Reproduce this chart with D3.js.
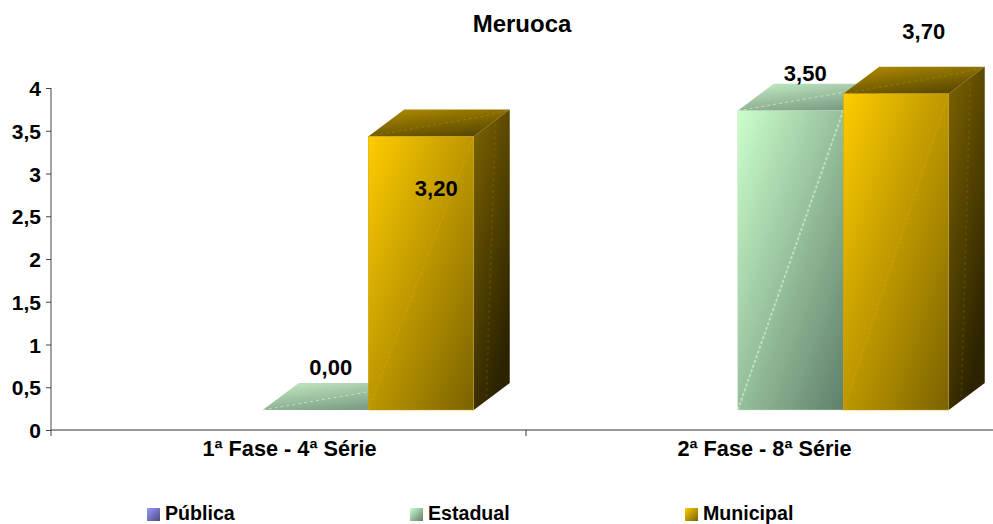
<!DOCTYPE html>
<html><head><meta charset="utf-8">
<script src="https://cdn.jsdelivr.net/npm/d3@7/dist/d3.min.js"></script>
<style>html,body{margin:0;padding:0;background:#fff}svg{display:block}text{font-family:"Liberation Sans",Arial,sans-serif;font-weight:bold;fill:#000}</style>
</head><body><div id="c"></div>
<script>
const title = "Meruoca";
const categories = ["1ª Fase - 4ª Série", "2ª Fase - 8ª Série"];
const seriesNames = ["Pública", "Estadual", "Municipal"];
const publica = [null, null];
const estadual = [0.0, 3.5];
const municipal = [3.2, 3.7];
const yTicks = [0, 0.5, 1, 1.5, 2, 2.5, 3, 3.5, 4];
const yTickLabels = ["0", "0,5", "1", "1,5", "2", "2,5", "3", "3,5", "4"];
const seriesValues = [publica, estadual, municipal];

const W = 993, H = 524;
const svg = d3.select("#c").append("svg").attr("width", W).attr("height", H);
const x0 = d3.scaleBand().domain(categories).range([51, 1001]);
const groupW = 316.5;
const x1 = d3.scaleBand().domain(seriesNames).range([0, groupW]);
const y = d3.scaleLinear().domain([0, 4]).range([430, 88]);
const depthX = 36, depthY = 27, floorLift = 20, groupShift = 27;
const groupLeft = c => x0(c) + (x0.bandwidth() - groupW) / 2 + groupShift;

const palette = {
  "Pública":   {front:["#9999ff","#4d4d80"], top:["#9999ff","#4d4d80"], side:["#666699","#222233"]},
  "Estadual":  {front:["#ccffcc","#5f7f6a"], top:["#c4eec4","#7d9d85"], side:["#7fa07f","#2c402c"]},
  "Municipal": {front:["#ffcc00","#7a6200"], top:["#b38f00","#5c4a00"], side:["#7d6400","#2b2200"]}
};
const defs = svg.append("defs");
function grad(id, a, b, x2, y2) {
  const g = defs.append("linearGradient").attr("id", id)
    .attr("x1", 0).attr("y1", 0).attr("x2", x2).attr("y2", y2);
  g.append("stop").attr("offset", "0%").attr("stop-color", a);
  g.append("stop").attr("offset", "100%").attr("stop-color", b);
}
seriesNames.forEach((s, i) => {
  const p = palette[s];
  grad("front" + i, p.front[0], p.front[1], 1, 1);
  grad("top" + i, p.top[0], p.top[1], 0.6, 1);
  grad("side" + i, p.side[0], p.side[1], 0.5, 1);
});
const pts = a => a.map(d => d.join(",")).join(" ");

// title
svg.append("text").attr("x", 522).attr("y", 32).attr("text-anchor", "middle").style("font-size", "24px").text(title);

// axes
const yAxis = d3.axisLeft(y).tickValues(yTicks).tickSize(5).tickFormat((d, i) => yTickLabels[i]);
const gy = svg.append("g").attr("transform", "translate(51,0)").call(yAxis);
gy.select(".domain").attr("stroke", "#666").attr("stroke-width", 1.2).attr("d", "M0,88V436");
gy.selectAll(".tick line").attr("stroke", "#444");
gy.selectAll(".tick text").attr("x", -10).style("font-size", "21px").style("font-family", '"Liberation Sans"').attr("dy", "0.36em");

const xAxis = d3.axisBottom(x0).tickSize(0).tickFormat(d => d);
const gx = svg.append("g").attr("transform", "translate(0,430)").call(xAxis);
gx.select(".domain").attr("stroke", "#333").attr("d", "M51,0H993");
gx.selectAll(".tick text").attr("y", 26).attr("dy", 0).attr("dx", 1).style("font-size", "21.7px").style("font-family", '"Liberation Sans"');
gx.append("line").attr("x1", x0.step() + 51).attr("x2", x0.step() + 51).attr("y1", 0).attr("y2", 6).attr("stroke", "#333");

// bars
const bars = svg.append("g");
categories.forEach((c, ci) => {
  seriesNames.forEach((s, si) => {
    const v = seriesValues[si][ci];
    if (v === null) return;
    const l = groupLeft(c) + x1(s), r = l + x1.bandwidth();
    const t = y(v) - floorLift, b = y(0) - floorLift;
    const g = bars.append("g");
    // top face
    g.append("polygon").attr("points", pts([[l, t], [l + depthX, t - depthY], [r + depthX, t - depthY], [r, t]]))
      .attr("fill", `url(#top${si})`);
    g.append("path").attr("d", `M${l},${t}L${r + depthX * .3},${t - depthY * .75}L${r + depthX},${t - depthY}`)
      .attr("fill", "none").attr("stroke", si === 2 ? "#c9a000" : "#e2f7e2").attr("stroke-width", 1).attr("stroke-dasharray", "3 3").attr("opacity", si === 2 ? .35 : .6);
    if (v > 0) {
      // side face
      g.append("polygon").attr("points", pts([[r, t], [r + depthX, t - depthY], [r + depthX, b - depthY], [r, b]]))
        .attr("fill", `url(#side${si})`);
      g.append("line").attr("x1", r + depthX * .35).attr("x2", r + depthX * .6)
        .attr("y1", b - depthY * .5).attr("y2", t - depthY * .5)
        .attr("stroke", "#a88600").attr("stroke-width", 2).attr("stroke-dasharray", "2 4").attr("opacity", .25);
      // front face
      g.append("rect").attr("x", l).attr("y", t).attr("width", r - l).attr("height", b - t)
        .attr("fill", `url(#front${si})`).attr("stroke", si === 2 ? "#c9a000" : "#bfe6bf").attr("stroke-width", .5);
      g.append("line").attr("x1", l).attr("y1", b).attr("x2", r).attr("y2", t)
        .attr("stroke", si === 2 ? "#f0c400" : "#dcf7dc").attr("stroke-width", si === 2 ? 1 : 2)
        .attr("stroke-dasharray", "3 2").attr("opacity", si === 2 ? .3 : .6);
    }
  });
});

// data labels: hand-placed in the reference, given as offsets from each bar
const labelOffsets = {"0-1":[68,-35], "0-2":[68,60], "1-1":[67.5,-30], "1-2":[80.5,-55]};
const fmt = v => v.toFixed(2).replace(".", ",");
categories.forEach((c, ci) => {
  seriesNames.forEach((s, si) => {
    const v = seriesValues[si][ci];
    if (v === null) return;
    const o = labelOffsets[ci + "-" + si];
    svg.append("text").attr("x", groupLeft(c) + x1(s) + o[0]).attr("y", y(v) - floorLift + o[1])
      .attr("text-anchor", "middle").style("font-size", "22px").text(fmt(v));
  });
});

// legend
const legendX = d3.scaleOrdinal().domain(seriesNames).range([147, 410, 685]);
seriesNames.forEach((s, si) => {
  svg.append("rect").attr("x", legendX(s)).attr("y", 508).attr("width", 13).attr("height", 13).attr("fill", `url(#front${si})`);
  svg.append("text").attr("x", legendX(s) + 18).attr("y", 520).style("font-size", "19.6px").text(s);
});
</script></body></html>
